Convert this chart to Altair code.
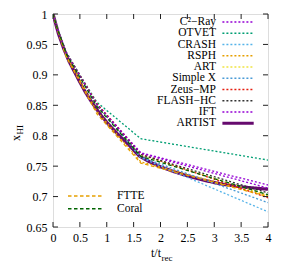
import altair as alt
import pandas as pd

# ---------------- data ----------------
codes = ["C²−Ray", "OTVET", "CRASH", "RSPH", "ART", "Simple X",
         "Zeus−MP", "FLASH−HC", "IFT", "FTTE", "Coral"]
code_colors = ["#9400D3", "#009E73", "#56B4E9", "#E69F00", "#F0E442", "#4A9BD6",
               "#E51E10", "#333333", "#9400D3", "#E6A000", "#006400"]
t_codes = [0.0, 0.082, 0.245, 0.817, 1.634, 4.0]
x_codes = {
    "C²−Ray":   [1.0, 0.976, 0.936, 0.852, 0.772, 0.719],
    "OTVET":    [1.0, 0.976, 0.936, 0.855, 0.795, 0.760],
    "CRASH":    [1.0, 0.976, 0.937, 0.851, 0.764, 0.675],
    "RSPH":     [1.0, 0.975, 0.932, 0.840, 0.757, 0.701],
    "ART":      [1.0, 0.976, 0.936, 0.850, 0.768, 0.702],
    "Simple X": [1.0, 0.977, 0.938, 0.852, 0.765, 0.690],
    "Zeus−MP":  [1.0, 0.976, 0.937, 0.853, 0.770, 0.698],
    "FLASH−HC": [1.0, 0.976, 0.936, 0.851, 0.769, 0.706],
    "IFT":      [1.0, 0.976, 0.936, 0.851, 0.771, 0.714],
    "FTTE":     [1.0, 0.974, 0.930, 0.836, 0.755, 0.700],
    "Coral":    [1.0, 0.976, 0.935, 0.848, 0.766, 0.703],
}
t_artist = [0.0, 0.1, 0.2, 0.3, 0.4, 0.5, 0.6, 0.7, 0.8, 0.9, 1.0, 1.2, 1.4,
            1.6, 1.8, 2.0, 2.25, 2.5, 2.75, 3.0, 3.25, 3.5, 3.75, 4.0]
x_artist = [1.0, 0.968, 0.943, 0.922, 0.905, 0.888, 0.872, 0.858, 0.845, 0.833,
            0.822, 0.803, 0.786, 0.767, 0.757, 0.749, 0.741, 0.734, 0.728, 0.723,
            0.719, 0.716, 0.714, 0.712]
artist_color = "#660A6E"

x_ticks = [0, 0.5, 1, 1.5, 2, 2.5, 3, 3.5, 4]
y_ticks = [0.65, 0.7, 0.75, 0.8, 0.85, 0.9, 0.95, 1]

top_legend = ["C²−Ray", "OTVET", "CRASH", "RSPH", "ART", "Simple X",
              "Zeus−MP", "FLASH−HC", "IFT", "ARTIST"]
bottom_legend = ["FTTE", "Coral"]

# ---------------- build tables ----------------
rows = []
for c in codes:
    for t, v in zip(t_codes, x_codes[c]):
        rows.append({"code": c, "t": t, "x": v})
df_codes = pd.DataFrame(rows)
df_artist = pd.DataFrame({"code": "ARTIST", "t": t_artist, "x": x_artist})

all_names = codes + ["ARTIST"]
all_colors = code_colors + [artist_color]
dashes = [[2, 2]] * 9 + [[3.5, 2.5]] * 2 + [[1, 0]]

W, H = 215, 213
ymin, ymax = 0.65, 1.0
xmin, xmax = 0.0, 4.0
def py2v(p):  # pixel offset from top of plot -> data value
    return ymax - p * (ymax - ymin) / H
def px2t(p):
    return xmin + p * (xmax - xmin) / W

leg_rows = []
for i, n in enumerate(top_legend):
    yv = py2v(8.0 + 11.25 * i)
    leg_rows.append({"code": n, "y": yv, "x1": px2t(169.4), "x2": px2t(200.7),
                     "tx": px2t(163.0)})
df_leg = pd.DataFrame(leg_rows)
leg2_rows = []
for i, n in enumerate(bottom_legend):
    yv = py2v(182.0 + 12.8 * i)
    leg2_rows.append({"code": n, "y": yv, "x1": px2t(15.0), "x2": px2t(50.0),
                      "tx": px2t(64.0)})
df_leg2 = pd.DataFrame(leg2_rows)

xscale = alt.Scale(domain=[xmin, xmax], nice=False, zero=False)
yscale = alt.Scale(domain=[ymin, ymax], nice=False, zero=False)
cscale = alt.Scale(domain=all_names, range=all_colors)
dscale = alt.Scale(domain=all_names, range=dashes)

FONT = "Liberation Serif"

xaxis = alt.Axis(values=x_ticks, title=None, ticks=False, domain=False, grid=False,
                 labelFont=FONT, labelFontSize=12, labelColor="black",
                 labelPadding=5, labelExpr="'' + datum.value",
                 labelOverlap=False, labelFlush=False)
yaxis = alt.Axis(values=y_ticks, title=None, ticks=False, domain=False, grid=False,
                 labelFont=FONT, labelFontSize=12, labelColor="black",
                 labelPadding=6, labelExpr="'' + datum.value",
                 labelOverlap=False, labelFlush=False)

def X(f):
    return alt.X(f, scale=xscale, axis=xaxis)
def Y(f):
    return alt.Y(f, scale=yscale, axis=yaxis)

enc_common = dict(
    color=alt.Color("code:N", scale=cscale, legend=None),
    strokeDash=alt.StrokeDash("code:N", scale=dscale, legend=None),
)

artist_line = alt.Chart(df_artist).mark_line(clip=True, strokeWidth=3.2).encode(
    x=X("t:Q"), y=Y("x:Q"), order="t:Q", **enc_common)

code_lines = alt.Chart(df_codes).mark_line(clip=True, strokeWidth=1.3).encode(
    x=X("t:Q"), y=Y("x:Q"), detail="code:N", order="t:Q", **enc_common)

# inward ticks (mirrored on all four sides)
tl_y = 5 * (ymax - ymin) / H
tl_x = 5 * (xmax - xmin) / W
df_xt = pd.DataFrame({"t": x_ticks, "lo": ymin, "lo2": ymin + tl_y,
                      "hi": ymax, "hi2": ymax - tl_y})
df_yt = pd.DataFrame({"v": y_ticks, "l": xmin, "l2": xmin + tl_x,
                      "r": xmax, "r2": xmax - tl_x})
tick_col = "#222222"
xt_bot = alt.Chart(df_xt).mark_rule(color=tick_col, strokeWidth=1).encode(
    x=X("t:Q"), y=Y("lo:Q"), y2="lo2:Q")
xt_top = alt.Chart(df_xt).mark_rule(color=tick_col, strokeWidth=1).encode(
    x=X("t:Q"), y=Y("hi:Q"), y2="hi2:Q")
yt_l = alt.Chart(df_yt).mark_rule(color=tick_col, strokeWidth=1).encode(
    y=Y("v:Q"), x=X("l:Q"), x2="l2:Q")
yt_r = alt.Chart(df_yt).mark_rule(color=tick_col, strokeWidth=1).encode(
    y=Y("v:Q"), x=X("r:Q"), x2="r2:Q")

# legends
leg_lines = alt.Chart(df_leg).transform_filter(alt.datum.code != "ARTIST").mark_rule(
    strokeWidth=1.3).encode(x=X("x1:Q"), x2="x2:Q", y=Y("y:Q"), **enc_common)
leg_artist = alt.Chart(df_leg).transform_filter(alt.datum.code == "ARTIST").mark_rule(
    strokeWidth=3.2).encode(x=X("x1:Q"), x2="x2:Q", y=Y("y:Q"), **enc_common)
leg_text = alt.Chart(df_leg).mark_text(align="right", baseline="middle",
                                       font=FONT, fontSize=11.5, color="black").encode(
    x=X("tx:Q"), y=Y("y:Q"), text="code:N")
leg2_lines = alt.Chart(df_leg2).mark_rule(strokeWidth=1.4).encode(
    x=X("x1:Q"), x2="x2:Q", y=Y("y:Q"), **enc_common)
leg2_text = alt.Chart(df_leg2).mark_text(align="left", baseline="middle",
                                         font=FONT, fontSize=11.5, color="black").encode(
    x=X("tx:Q"), y=Y("y:Q"), text="code:N")

# axis titles with sub-scripts
ann = pd.DataFrame({"d": [0]})
xt1 = alt.Chart(ann).mark_text(align="right", baseline="alphabetic", font=FONT,
                               fontSize=12, color="black", text="t/t").encode(
    x=alt.value(108), y=alt.value(243))
xt2 = alt.Chart(ann).mark_text(align="left", baseline="alphabetic", font=FONT,
                               fontSize=9, color="black", text="rec").encode(
    x=alt.value(108.5), y=alt.value(247))
yt1 = alt.Chart(ann).mark_text(align="left", baseline="alphabetic", font=FONT,
                               fontSize=12, color="black", text="x", angle=270).encode(
    x=alt.value(-33), y=alt.value(127))
yt2 = alt.Chart(ann).mark_text(align="left", baseline="alphabetic", font=FONT,
                               fontSize=9, color="black", text="HI", angle=270).encode(
    x=alt.value(-30), y=alt.value(120.5))

chart = alt.layer(
    artist_line, code_lines, xt_bot, xt_top, yt_l, yt_r,
    leg_lines, leg_artist, leg_text, leg2_lines, leg2_text, xt1, xt2, yt1, yt2
).properties(
    width=W, height=H,
    autosize=alt.AutoSizeParams(type="none"),
    padding={"left": 45, "top": 6, "right": 30, "bottom": 40},
).configure_axis(labelOverlap=False, labelFlush=False).configure_view(
    stroke="#222222", strokeWidth=1).configure(background="white")

chart.save("out.html", embed_options={"renderer": "svg", "actions": False})
